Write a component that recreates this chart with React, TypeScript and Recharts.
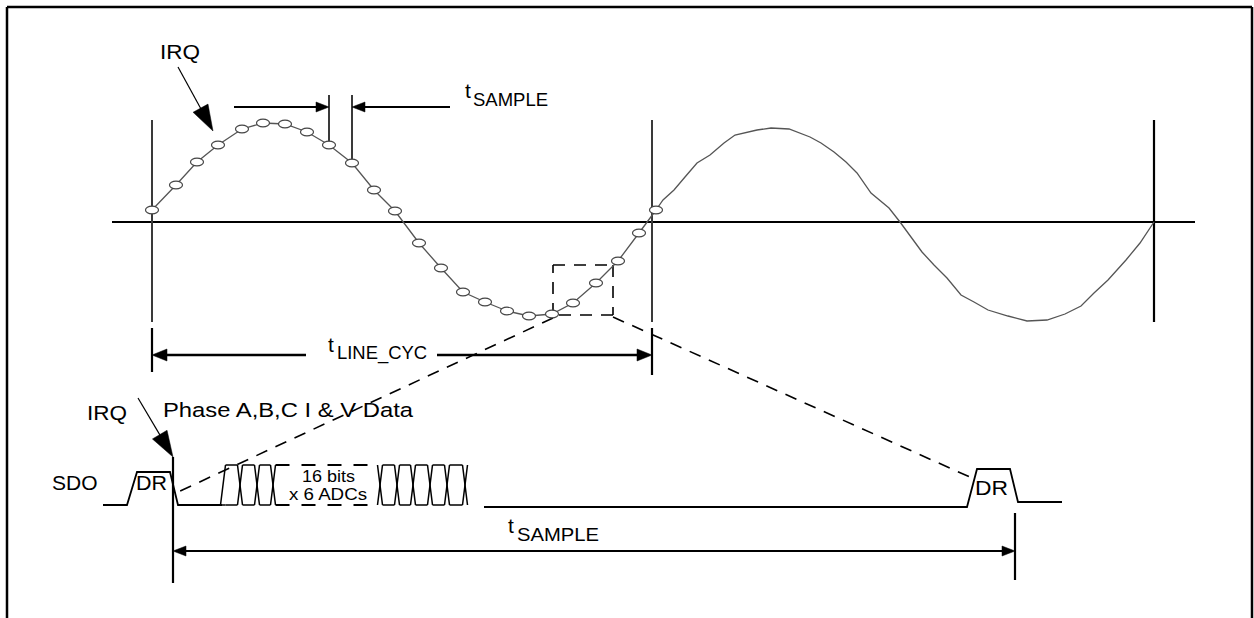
import React from 'react';
import { ComposedChart, Line, Scatter, XAxis, YAxis, ReferenceLine } from 'recharts';

// Diagram time axis (0 = IRQ / zero crossing) and signal level axis (0 = sine baseline)
const X_DOMAIN: [number, number] = [-152, 1102];
const Y_DOMAIN: [number, number] = [-396, 222];

// Sampled first line cycle (circles)
const sampleTimes = [0, 24, 45, 66, 90, 111, 133, 155, 177, 200, 222, 243, 267, 289, 311, 333, 355, 377, 400, 421, 444, 466, 487, 504];
const sampleValues = [12, 37, 60, 77, 93, 99, 98, 90, 77, 59, 32, 11, -21, -46, -70, -80, -89, -94, -92, -81, -61, -39, -11, 12];

// Continuous second line cycle
const waveTimes = [504, 511, 522, 533, 545, 558, 572, 583, 605, 619, 637, 658, 669, 682, 694, 705, 719, 737, 748, 759, 770, 782, 795, 809, 822, 836, 856, 875, 895, 913, 929, 942, 956, 974, 988, 1002];
const waveValues = [12, 22, 32, 45, 59, 67, 79, 87, 92, 94, 93, 85, 79, 70, 60, 49, 29, 14, 0, -15, -30, -43, -56, -73, -80, -88, -94, -99, -98, -92, -84, -71, -58, -38, -21, 0];

// SDO digital waveform
const sdoStartTimes = [-49, -25, -15, 18, 26, 70];
const sdoStartLevels = [-283, -283, -250, -250, -283, -283];
const sdoEndTimes = [332, 815, 825, 858, 866, 910];
const sdoEndLevels = [-285, -285, -247, -247, -280, -280];
const busHigh = -243;
const busLow = -283;
const busEdgesA = [71, 88, 105, 121];
const busEdgesB = [228, 245, 261, 278, 295, 313];

// Straight guide lines: [x1, y1, x2, y2, kind]
const guideLines: [number, number, number, number, string][] = [
  [-145, 215, 1100, 215, 'frame'],
  [-145, 215, -145, -396, 'frame'],
  [1100, 215, 1100, -396, 'frame'],
  [-40, 0, 1043, 0, 'axis'],
  [0, 102, 0, -100, 'gray'],
  [500, 102, 500, -100, 'gray'],
  [1002, 102, 1002, -100, 'black'],
  [177, 127, 177, 79, 'gray'],
  [200, 127, 200, 62, 'gray'],
  [0, -106, 0, -150, 'black'],
  [500, -106, 500, -153, 'black'],
  [21, -235, 21, -361, 'black'],
  [863, -291, 863, -358, 'black'],
];

// Dashed zoom box and zoom lines
const dashedLines: [number, number, number, number][] = [
  [401, -43, 461, -43],
  [461, -43, 461, -93],
  [461, -93, 401, -93],
  [401, -93, 401, -43],
  [401, -96, 26, -270],
  [461, -95, 820, -256],
];

// Arrows: tail -> tip
const arrows = [
  { tail: [26, 155], tip: [61, 91], kind: 'big' },
  { tail: [82, 115], tip: [177, 115], kind: 'small' },
  { tail: [298, 115], tip: [200, 115], kind: 'small' },
  { tail: [154, -133], tip: [0, -133], kind: 'mid' },
  { tail: [285, -133], tip: [500, -133], kind: 'mid' },
  { tail: [-14, -176], tip: [21, -235], kind: 'big' },
  { tail: [442, -329], tip: [21, -329], kind: 'small' },
  { tail: [442, -329], tip: [863, -329], kind: 'small' },
];

// Text labels (baseline start positions)
const labelIds = ['irq1', 'tS1', 'sS1', 'tL', 'sL', 'phase', 'irq2', 'sdo', 'dr1', 'dr2', 'bits', 'adcs', 'tS2', 'sS2'];
const labelTexts = ['IRQ', 't', 'SAMPLE', 't', 'LINE_CYC', 'Phase A,B,C I & V Data', 'IRQ', 'SDO', 'DR', 'DR', '16 bits', 'x 6 ADCs', 't', 'SAMPLE'];
const labelTimes = [8, 313, 321, 176, 185, 11, -65, -100, -16, 823, 150, 137, 356, 365];
const labelLevels = [163, 124, 116, -130, -137, -195, -198, -268, -268, -273, -260, -278, -311, -319];

// ---- styles (kept apart from data) ----
const FONT = '"Liberation Sans", Arial, Helvetica, sans-serif';
const labelStyle: Record<string, { size: number; width?: number }> = {
  irq1: { size: 20, width: 40 },
  tS1: { size: 21 },
  sS1: { size: 18.5, width: 75 },
  tL: { size: 21 },
  sL: { size: 18.5, width: 90 },
  phase: { size: 20.5, width: 250 },
  irq2: { size: 20, width: 40 },
  sdo: { size: 21 },
  dr1: { size: 21, width: 31 },
  dr2: { size: 21, width: 33 },
  bits: { size: 16, width: 53 },
  adcs: { size: 16, width: 78 },
  tS2: { size: 21 },
  sS2: { size: 18.5, width: 82 },
};
const guideStyle: Record<string, { stroke: string; w: number }> = {
  frame: { stroke: '#000', w: 2.5 },
  axis: { stroke: '#000', w: 2.2 },
  gray: { stroke: '#3a3a3a', w: 2 },
  black: { stroke: '#000', w: 2.2 },
};
const headStyle: Record<string, { len: number; half: number; w: number }> = {
  big: { len: 26, half: 8.5, w: 1.2 },
  small: { len: 13, half: 5, w: 2.2 },
  mid: { len: 15, half: 6, w: 2.4 },
};

// ---- derived tables for the library ----
const samplePoints = sampleTimes.map((x, i) => ({ x, y: sampleValues[i] }));
const wavePoints = waveTimes.map((x, i) => ({ x, y: waveValues[i] }));
const sdoStart = sdoStartTimes.map((x, i) => ({ x, y: sdoStartLevels[i] }));
const sdoEnd = sdoEndTimes.map((x, i) => ({ x, y: sdoEndLevels[i] }));

type Seg = [number, number, number, number];
const HALF = 2.5;
const busSolid: Seg[] = [];
const busDashed: Seg[] = [];
const cross = (e: number) => {
  busSolid.push([e - HALF, busHigh, e + HALF, busLow]);
  busSolid.push([e - HALF, busLow, e + HALF, busHigh]);
};
const runs = (edges: number[]) => {
  for (let i = 0; i < edges.length - 1; i++) {
    busSolid.push([edges[i] + HALF, busHigh, edges[i + 1] - HALF, busHigh]);
    busSolid.push([edges[i] + HALF, busLow, edges[i + 1] - HALF, busLow]);
  }
};
// group A: split from the idle level then cells
busSolid.push([busEdgesA[0] - HALF, busLow, busEdgesA[0] + HALF, busHigh]);
busSolid.push([busEdgesA[0] - HALF, busLow, busEdgesA[0] + HALF, busLow]);
runs(busEdgesA);
busEdgesA.slice(1).forEach(cross);
const gapStart = busEdgesA[busEdgesA.length - 1] + HALF;
const gapEnd = busEdgesB[0] - HALF;
busDashed.push([gapStart, busHigh, gapEnd, busHigh]);
busDashed.push([gapStart, busLow, gapEnd, busLow]);
busEdgesB.forEach(cross);
runs(busEdgesB);

const arrowHeads = arrows.map((a) => {
  const dx = a.tip[0] - a.tail[0];
  const dy = a.tip[1] - a.tail[1];
  return { x: a.tip[0], y: a.tip[1], kind: a.kind, angle: Math.atan2(-dy, dx) };
});
const arrowShafts: { seg: Seg; kind: string }[] = arrows.map((a) => {
  const dx = a.tip[0] - a.tail[0];
  const dy = a.tip[1] - a.tail[1];
  const L = Math.hypot(dx, dy);
  const back = headStyle[a.kind].len * 0.6;
  return {
    seg: [a.tail[0], a.tail[1], a.tip[0] - (dx / L) * back, a.tip[1] - (dy / L) * back],
    kind: a.kind,
  };
});
const labelPoints = labelIds.map((id, i) => ({ id, text: labelTexts[i], x: labelTimes[i], y: labelLevels[i] }));

const HeadShape = (props: any) => {
  const { cx, cy, payload } = props;
  if (cx == null || cy == null) return null;
  const s = headStyle[payload.kind];
  const c = Math.cos(payload.angle);
  const sn = Math.sin(payload.angle);
  const bx = cx - s.len * c;
  const by = cy - s.len * sn;
  const px = -sn * s.half;
  const py = c * s.half;
  const pts = `${cx},${cy} ${bx + px},${by + py} ${bx - px},${by - py}`;
  return <polygon points={pts} fill="#000" stroke="#000" strokeWidth={0.5} />;
};

const LabelShape = (props: any) => {
  const { cx, cy, payload } = props;
  if (cx == null || cy == null) return null;
  const st = labelStyle[payload.id];
  const extra: any = st.width ? { textLength: st.width, lengthAdjust: 'spacingAndGlyphs' } : {};
  return (
    <text x={cx} y={cy} fontSize={st.size} fontFamily={FONT} fill="#000" {...extra}>
      {payload.text}
    </text>
  );
};

const SampleDot = (props: any) => {
  const { cx, cy, index } = props;
  if (cx == null || cy == null) return <g key={index} />;
  return <ellipse key={index} cx={cx} cy={cy} rx={6.5} ry={3.8} fill="#fff" stroke="#444" strokeWidth={1.2} />;
};

const seg = (s: Seg) => [
  { x: s[0], y: s[1] },
  { x: s[2], y: s[3] },
];

export default function App() {
  return (
    <div style={{ position: 'absolute', left: 0, top: 0, width: 1254, height: 618, background: '#fff' }}>
      <ComposedChart width={1254} height={618} margin={{ top: 0, right: 0, bottom: 0, left: 0 }}>
        <XAxis type="number" dataKey="x" domain={X_DOMAIN} hide allowDataOverflow />
        <YAxis type="number" dataKey="y" domain={Y_DOMAIN} hide allowDataOverflow />
        {guideLines.map((g, i) => (
          <ReferenceLine
            key={'g' + i}
            segment={seg([g[0], g[1], g[2], g[3]])}
            stroke={guideStyle[g[4]].stroke}
            strokeWidth={guideStyle[g[4]].w}
            ifOverflow="visible"
          />
        ))}
        {dashedLines.map((d, i) => (
          <ReferenceLine key={'d' + i} segment={seg(d)} stroke="#000" strokeWidth={1.6} strokeDasharray="12 9" ifOverflow="visible" />
        ))}
        {busSolid.map((b, i) => (
          <ReferenceLine key={'b' + i} segment={seg(b)} stroke="#000" strokeWidth={1.5} ifOverflow="visible" />
        ))}
        {busDashed.map((b, i) => (
          <ReferenceLine key={'bd' + i} segment={seg(b)} stroke="#000" strokeWidth={1.8} strokeDasharray="14 12" ifOverflow="visible" />
        ))}
        {arrowShafts.map((a, i) => (
          <ReferenceLine key={'a' + i} segment={seg(a.seg)} stroke="#000" strokeWidth={headStyle[a.kind].w} ifOverflow="visible" />
        ))}
        <Line data={sdoStart} dataKey="y" type="linear" stroke="#000" strokeWidth={1.8} dot={false} isAnimationActive={false} />
        <Line data={sdoEnd} dataKey="y" type="linear" stroke="#000" strokeWidth={1.8} dot={false} isAnimationActive={false} />
        <Line data={wavePoints} dataKey="y" type="linear" stroke="#555" strokeWidth={1.3} dot={false} isAnimationActive={false} />
        <Line data={samplePoints} dataKey="y" type="linear" stroke="#555" strokeWidth={1.3} dot={SampleDot} isAnimationActive={false} />
        <Scatter data={arrowHeads} dataKey="y" shape={HeadShape} isAnimationActive={false} />
        <Scatter data={labelPoints} dataKey="y" shape={LabelShape} isAnimationActive={false} />
      </ComposedChart>
    </div>
  );
}
